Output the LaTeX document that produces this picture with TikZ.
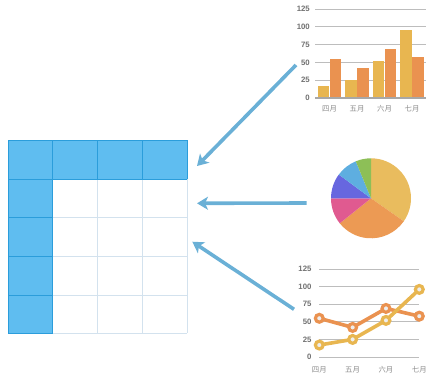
\documentclass[tikz,border=0pt]{standalone}
\usepackage{fontspec}
\setsansfont{Liberation Sans}
\newfontfamily\cjk{Noto Sans CJK SC}
\usetikzlibrary{arrows.meta}
\definecolor{headfill}{HTML}{5FBDF0}
\definecolor{headline}{HTML}{2B9DDB}
\definecolor{cellline}{HTML}{D3E2EE}
\definecolor{flowblue}{HTML}{6AB0D6}
\definecolor{gridgray}{HTML}{BDBDBD}
\definecolor{axisgray}{HTML}{A8A8A8}
\definecolor{ticktext}{HTML}{707070}
\definecolor{monthtext}{HTML}{8C8C8C}
\definecolor{seriesa}{HTML}{E8B650}
\definecolor{seriesb}{HTML}{EA9250}
\definecolor{markfill}{HTML}{EEEEEE}
\definecolor{pieyellow}{HTML}{E9BC5E}
\definecolor{pieorange}{HTML}{EC9A54}
\definecolor{piepink}{HTML}{E05A90}
\definecolor{piepurple}{HTML}{6767DF}
\definecolor{pieblue}{HTML}{5EAEE0}
\definecolor{piegreen}{HTML}{8DBF57}
\tikzset{
  flow/.style={-{Stealth[length=11pt,width=13pt,inset=3pt]}, draw=flowblue,
    line width=3.6pt},
  gridline/.style={draw=gridgray, line width=0.7pt},
  axisline/.style={draw=axisgray, line width=1.1pt},
  ticklabel/.style={font=\sffamily\bfseries\fontsize{7.8}{8}\selectfont,
    text=ticktext, anchor=east, inner sep=0pt},
  month/.style={font=\cjk\fontsize{7.4}{8}\selectfont, text=monthtext,
    inner sep=0pt},
  series/.style={line width=3.6pt, line join=round},
  marker/.style={line width=3.2pt, fill=markfill}
}
\begin{document}
\begin{tikzpicture}[x=1pt,y=-1pt]
  \useasboundingbox (0,0) rectangle (448,383);

  % Table: coloured header row and first column.
  \fill[headfill] (8,140) rectangle (187,179.3);
  \fill[headfill] (8,179.3) rectangle (52.7,333);
  \foreach \yy in {217.7,256.3,295,333}
    \draw[cellline, line width=0.7pt] (52.7,\yy) -- (187,\yy);
  \foreach \xx in {97.3,142.3,187}
    \draw[cellline, line width=0.7pt] (\xx,179.3) -- (\xx,333);
  \foreach \xx in {52.7,97.3,142.3}
    \draw[headline, line width=0.7pt] (\xx,140) -- (\xx,179.3);
  \draw[headline, line width=0.7pt] (8,179.3) -- (187,179.3);
  \draw[headline, line width=0.7pt] (52.7,179.3) -- (52.7,333);
  \foreach \yy in {217.7,256.3,295}
    \draw[headline, line width=0.7pt] (8,\yy) -- (52.7,\yy);
  \draw[headline, line width=0.5pt] (8,333) -- (8,140) -- (187,140) -- (187,179.3);
  \draw[headline, line width=0.5pt] (8,333) -- (52.7,333);

  \coordinate (tbltop) at (197,166);
  \coordinate (tblmid) at (197,203.3);
  \coordinate (tblbot) at (192.3,241.7);

  % Bar chart.
  \begin{scope}[shift={(315,98)}, y=0.712pt]
    \foreach \v in {25,50,...,125} {
      \draw[gridline] (0,\v) -- (110.7,\v);
      \node[ticklabel] at (-5,\v) {\v};
    }
    \node[ticklabel] at (-5,0) {0};
    \foreach \m/\a/\b [count=\k from 0] in {四月/17/55,五月/25/42,六月/52/69,七月/96/58} {
      \fill[seriesa] (2.7+27.5*\k,0) rectangle (14.2+27.5*\k,\a);
      \fill[seriesb] (14.9+27.5*\k,0) rectangle (26.4+27.5*\k,\b);
      \node[month] at (14.5+27.5*\k,0) [yshift=-10.5pt] {\m};
    }
    \draw[axisline] (0,0) -- (110.7,0);
  \end{scope}
  \coordinate (barsrc) at (296,65);

  % Pie chart.
  \begin{scope}[shift={(371,198.3)}, y=1pt]
    \foreach \a/\b/\c in {90/-35/pieyellow,-35/-141.3/pieorange,
        -141.3/-180/piepink,180/143.6/piepurple,143.6/112.3/pieblue,
        112.3/90/piegreen}
      \fill[\c] (0,0) -- (\a:40) arc[start angle=\a, end angle=\b, radius=40]
        -- cycle;
  \end{scope}
  \coordinate (piesrc) at (306.7,203);

  % Line chart.
  \begin{scope}[shift={(319.3,357)}, y=0.704pt]
    \foreach \v in {0,25,...,125} {
      \draw[gridline] (0,\v) -- (100,\v);
      \node[ticklabel] at (-7.6,\v) {\v};
    }
    \foreach \m [count=\k from 0] in {四月,五月,六月,七月}
      \node[month] at (33.33*\k,0) [yshift=-13pt] {\m};
    \draw[series, seriesb] (0,55) -- (33.33,42) -- (66.67,69) -- (100,58);
    \foreach \x/\v in {0/55,33.33/42,66.67/69,100/58}
      \draw[seriesb, marker] (\x,\v) circle[radius=3.9pt];
    \draw[series, seriesa] (0,17) -- (33.33,25) -- (66.67,52) -- (100,96);
    \foreach \x/\v in {0/17,33.33/25,66.67/52,100/96}
      \draw[seriesa, marker] (\x,\v) circle[radius=3.9pt];
  \end{scope}
  \coordinate (linesrc) at (294,309.3);

  % Arrows from the charts into the table.
  \draw[flow] (barsrc) -- (tbltop);
  \draw[flow] (piesrc) -- (tblmid);
  \draw[flow] (linesrc) -- (tblbot);
\end{tikzpicture}
\end{document}
